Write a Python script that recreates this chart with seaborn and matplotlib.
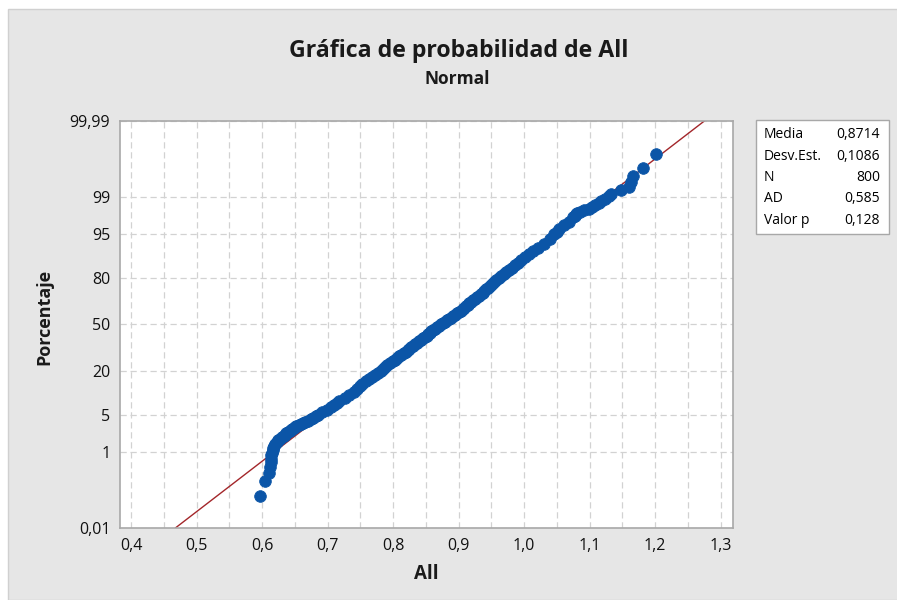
import numpy as np
import pandas as pd
import seaborn as sns
import matplotlib
matplotlib.use("Agg")
import matplotlib.pyplot as plt
from matplotlib.patches import Rectangle
from matplotlib.ticker import FixedLocator
from statistics import NormalDist

# percentages (plotting positions) and the values
porcentaje = [0.087, 0.212, 0.337, 0.462, 0.587, 0.712, 0.837, 0.962, 1.087, 1.212,
              1.337, 1.46, 1.59, 1.71, 1.84, 1.96, 2.09, 2.21, 2.34, 2.46,
              2.59, 2.71, 2.84, 2.96, 3.09, 3.21, 3.34, 3.46, 3.59, 3.71,
              3.96, 4.21, 4.46, 4.71, 4.96, 5.5, 6, 6.5, 7, 7.5, 8,
              9, 10, 11, 12, 13, 14, 15, 16, 17, 18, 19, 20, 21, 22, 23, 24, 25,
              26, 27, 28, 29, 30, 31, 32, 33, 34, 35, 36, 37, 38, 39, 40, 41, 42,
              43, 44, 45, 46, 47, 48, 49, 50, 51, 52, 53, 54, 55, 56, 57, 58, 59,
              60, 61, 62, 63, 64, 65, 66, 67, 68, 69, 70, 71, 72, 73, 74, 75, 76,
              77, 78, 79, 80, 81, 82, 83, 84, 85, 86, 87, 88, 89, 90, 91, 92, 93,
              94, 95, 95.5, 96, 96.5, 97, 97.5, 97.66, 97.79, 97.91, 98.04, 98.16,
              98.29, 98.41, 98.54, 98.66, 98.79, 98.91, 99.04, 99.16, 99.29, 99.41,
              99.54, 99.66, 99.79, 99.91]
valores = [0.597, 0.605, 0.611, 0.612, 0.613, 0.613, 0.614, 0.615, 0.616, 0.617,
           0.618, 0.620, 0.622, 0.625, 0.627, 0.630, 0.633, 0.635, 0.637, 0.640,
           0.642, 0.644, 0.646, 0.648, 0.650, 0.652, 0.656, 0.660, 0.663, 0.666,
           0.670, 0.674, 0.678, 0.682, 0.685, 0.692, 0.699, 0.705, 0.709, 0.714, 0.718,
           0.726, 0.733, 0.740, 0.745, 0.749, 0.753, 0.758, 0.763, 0.768, 0.773, 0.777,
           0.781, 0.785, 0.788, 0.791, 0.796, 0.800,
           0.803, 0.806, 0.809, 0.812, 0.816, 0.819, 0.822, 0.824, 0.827, 0.830, 0.833,
           0.836, 0.840, 0.843, 0.846, 0.848, 0.851,
           0.854, 0.856, 0.858, 0.861, 0.864, 0.867, 0.870, 0.873, 0.876, 0.879, 0.882,
           0.885, 0.888, 0.891, 0.894, 0.897, 0.900,
           0.903, 0.906, 0.908, 0.911, 0.914, 0.916, 0.919, 0.922, 0.925, 0.928, 0.931,
           0.934, 0.937, 0.939, 0.942, 0.945, 0.948,
           0.951, 0.954, 0.957, 0.961, 0.965, 0.969, 0.973, 0.977, 0.981, 0.986, 0.991,
           0.996, 1.002, 1.008, 1.014, 1.021, 1.030,
           1.039, 1.046, 1.050, 1.054, 1.061, 1.069, 1.075, 1.077, 1.079, 1.081, 1.085,
           1.092, 1.099, 1.103, 1.109, 1.114, 1.118, 1.124, 1.129, 1.133, 1.148, 1.160,
           1.163, 1.167, 1.182, 1.201]

media = 0.8714
desv = 0.1086
n_obs = 800
ad = 0.585
valor_p = 0.128

x_ticks = [0.4, 0.5, 0.6, 0.7, 0.8, 0.9, 1.0, 1.1, 1.2, 1.3]
y_ticks = [0.01, 1, 5, 20, 50, 80, 95, 99, 99.99]
y_labels = ["0,01", "1", "5", "20", "50", "80", "95", "99", "99,99"]

_nd = NormalDist()


def prob_fwd(p):
    p = np.clip(np.asarray(p, dtype=float), 1e-9, 100 - 1e-9)
    return np.vectorize(lambda v: _nd.inv_cdf(v / 100.0), otypes=[float])(p)


def prob_inv(z):
    z = np.asarray(z, dtype=float)
    return np.vectorize(lambda v: _nd.cdf(v) * 100.0, otypes=[float])(z)


sns.set_style("white")
plt.rcParams["font.family"] = ["Open Sans", "DejaVu Sans"]

W, H = 897, 600
fig = plt.figure(figsize=(W / 100, H / 100), dpi=100, facecolor="white")
fig.patches.append(Rectangle((8 / W, 0), 1, 1 - 9 / H, transform=fig.transFigure,
                             facecolor="#e6e6e6", edgecolor="#d0d0d0", lw=1, zorder=-10))

ax = fig.add_axes([120 / W, 72 / H, 613 / W, 407 / H])
ax.set_facecolor("white")
ax.set_yscale("function", functions=(prob_fwd, prob_inv))

df = pd.DataFrame({"All": valores, "Porcentaje": porcentaje})
sns.scatterplot(data=df, x="All", y="Porcentaje", ax=ax, s=70, color="#0b55a7",
                edgecolor="#0b55a7", linewidth=0.6, zorder=3, legend=False)

# fitted normal line
p_ends = np.array([0.01, 99.99])
ax.plot(media + desv * prob_fwd(p_ends), p_ends, color="#a3262a", lw=1.0, zorder=2)

ax.set_xlim(0.383, 1.319)
ax.set_ylim(0.01, 99.99)
ax.set_xticks(x_ticks)
ax.set_xticklabels([f"{v:.1f}".replace(".", ",") for v in x_ticks])
ax.xaxis.set_minor_locator(FixedLocator([0.45, 0.55, 0.65, 0.75, 0.85, 0.95, 1.05, 1.15, 1.25]))
ax.set_yticks(y_ticks)
ax.set_yticklabels(y_labels)
ax.yaxis.set_minor_locator(FixedLocator([]))

ax.grid(True, which="both", axis="x", ls=(0, (5, 3)), color="#d2d2d2", lw=0.9)
ax.grid(True, which="major", axis="y", ls=(0, (5, 3)), color="#d2d2d2", lw=0.9)
ax.set_axisbelow(True)
ax.tick_params(which="major", direction="out", length=4, width=1, color="#9a9a9a",
               labelsize=11.5, labelcolor="#111111", pad=3)
ax.tick_params(which="minor", length=0)
for sp in ax.spines.values():
    sp.set_visible(True)
    sp.set_color("#a8a8a8")
    sp.set_linewidth(1.2)

ax.set_xlabel("All", fontsize=13.5, fontweight="bold", color="#1a1a1a")
ax.xaxis.set_label_coords(0.5, -(574 - 528) / 407)
ax.xaxis.label.set_va("center")
ax.set_ylabel("Porcentaje", fontsize=13, fontweight="bold", color="#1a1a1a")
ax.yaxis.set_label_coords((44 - 120) / 613, (528 - 317) / 407)
ax.yaxis.label.set_va("center")

fig.text(459 / W, 1 - 57 / H, "Gráfica de probabilidad de All", ha="center", va="baseline",
         fontsize=16.7, fontweight="bold", color="#1a1a1a")
fig.text(457 / W, 1 - 84 / H, "Normal", ha="center", va="baseline",
         fontsize=12.5, fontweight="bold", color="#1a1a1a")

# stats box
fig.patches.append(Rectangle((756 / W, 1 - 234 / H), 133 / W, 114 / H, transform=fig.transFigure,
                             facecolor="white", edgecolor="#a8a8a8", lw=1, zorder=1))
filas = [("Media", f"{media:.4f}"), ("Desv.Est.", f"{desv:.4f}"), ("N", f"{n_obs}"),
         ("AD", f"{ad:.3f}"), ("Valor p", f"{valor_p:.3f}")]
for k, (lab, val) in enumerate(filas):
    yy = 1 - (135 + 21.3 * k) / H
    fig.text(764 / W, yy, lab, ha="left", va="center", fontsize=10,
             color="#000000", zorder=2)
    fig.text(880 / W, yy, val.replace(".", ","), ha="right", va="center", fontsize=10,
             color="#000000", zorder=2)

fig.savefig("out.png", dpi=100, facecolor=fig.get_facecolor())
